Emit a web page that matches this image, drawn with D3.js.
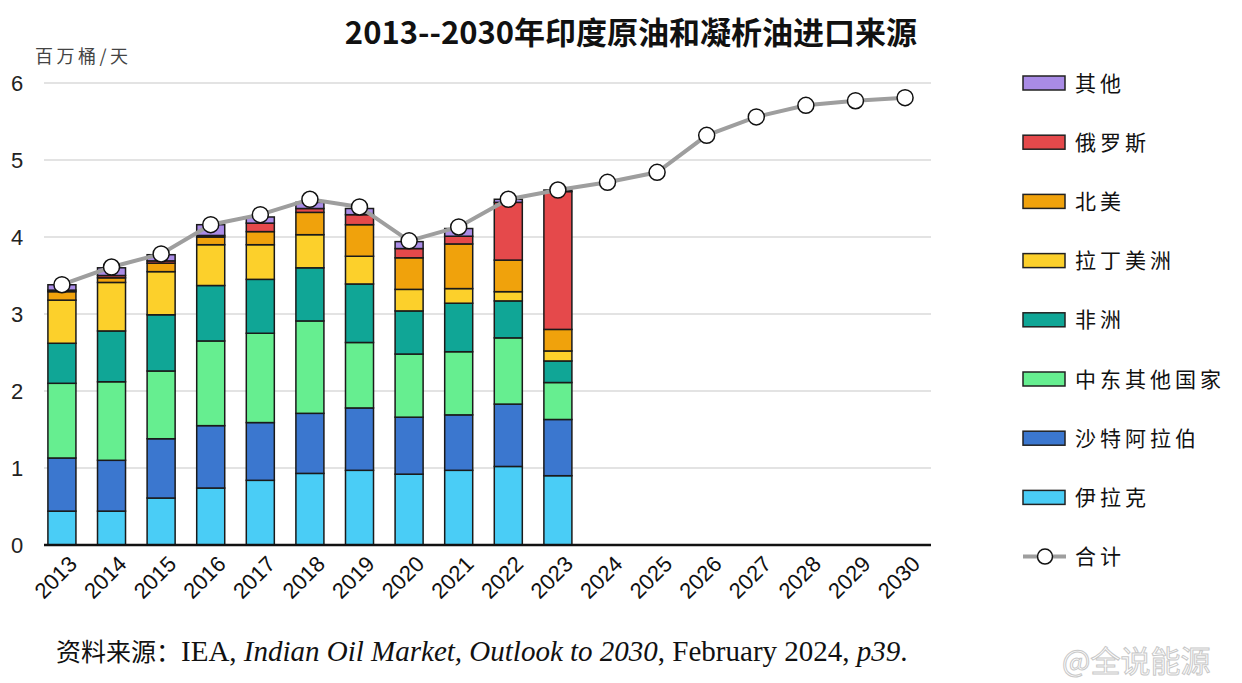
<!DOCTYPE html>
<html>
<head>
<meta charset="utf-8">
<script src="https://cdn.jsdelivr.net/npm/d3@7"></script>
<style>
  body { margin: 0; background: #fff; }
  svg { display: block; }
</style>
</head>
<body>
<div id="chart"></div>
<script>
// years and series (million barrels per day)
const years = d3.range(2013, 2031).map(String);
const barYears = ["2013","2014","2015","2016","2017","2018","2019","2020","2021","2022","2023"];

const iraq     = [0.44, 0.44, 0.61, 0.74, 0.84, 0.93, 0.97, 0.92, 0.97, 1.02, 0.90];
const saudi    = [0.69, 0.66, 0.77, 0.81, 0.75, 0.78, 0.81, 0.74, 0.72, 0.81, 0.73];
const meOther  = [0.97, 1.02, 0.88, 1.10, 1.16, 1.20, 0.85, 0.82, 0.82, 0.86, 0.48];
const africa   = [0.52, 0.66, 0.73, 0.72, 0.70, 0.69, 0.76, 0.56, 0.63, 0.48, 0.28];
const latam    = [0.56, 0.63, 0.56, 0.53, 0.45, 0.43, 0.36, 0.28, 0.19, 0.12, 0.13];
const nAmerica = [0.11, 0.06, 0.11, 0.10, 0.17, 0.29, 0.41, 0.41, 0.58, 0.41, 0.28];
const russia   = [0.02, 0.03, 0.03, 0.02, 0.11, 0.05, 0.13, 0.12, 0.10, 0.75, 1.79];
const other    = [0.07, 0.10, 0.08, 0.14, 0.08, 0.08, 0.08, 0.09, 0.10, 0.04, 0.02];

const totals = [3.38, 3.61, 3.78, 4.16, 4.29, 4.49, 4.39, 3.95, 4.13, 4.49, 4.61,
                4.71, 4.84, 5.32, 5.56, 5.71, 5.77, 5.81];

const seriesNames = ["伊拉克", "沙特阿拉伯", "中东其他国家", "非洲", "拉丁美洲", "北美", "俄罗斯", "其他"];
const seriesColors = ["#4acdf6", "#3b77cf", "#66ee90", "#10a696", "#fcd02b", "#f0a20c", "#e5494b", "#a98be6"];
const seriesValues = [iraq, saudi, meOther, africa, latam, nAmerica, russia, other];
const yTicks = [0, 1, 2, 3, 4, 5, 6];

const W = 1242, H = 683;
const svg = d3.select("#chart").append("svg").attr("width", W).attr("height", H);

const x = d3.scaleBand().domain(years).range([37, 930]).paddingInner(0.435).paddingOuter(0.22);
const y = d3.scaleLinear().domain([0, 6]).range([545, 83]);

// gridlines
svg.append("g")
  .selectAll("line")
  .data(yTicks.filter(d => d > 0))
  .join("line")
  .attr("x1", 44).attr("x2", 931)
  .attr("y1", d => y(d)).attr("y2", d => y(d))
  .attr("stroke", "#e3e3e3").attr("stroke-width", 2);

// y tick labels
svg.append("g")
  .selectAll("text")
  .data(yTicks)
  .join("text")
  .attr("x", 17).attr("y", d => y(d))
  .attr("dy", "0.36em")
  .attr("text-anchor", "middle")
  .attr("font-family", "Liberation Sans, Arial, sans-serif")
  .attr("font-size", 22)
  .attr("fill", "#222")
  .text(d => d);

// stack data
const rows = barYears.map((yr, i) => {
  const r = { year: yr };
  seriesNames.forEach((n, k) => r[n] = seriesValues[k][i]);
  return r;
});
const stacked = d3.stack().keys(seriesNames)(rows);
const color = d3.scaleOrdinal().domain(seriesNames).range(seriesColors);

svg.append("g")
  .selectAll("g")
  .data(stacked)
  .join("g")
  .attr("fill", d => color(d.key))
  .selectAll("rect")
  .data(d => d)
  .join("rect")
  .attr("x", d => x(d.data.year))
  .attr("y", d => y(d[1]))
  .attr("width", x.bandwidth())
  .attr("height", d => y(d[0]) - y(d[1]))
  .attr("stroke", "#1a1a1a")
  .attr("stroke-width", 1.5);

// x axis baseline
svg.append("line")
  .attr("x1", 44).attr("x2", 931)
  .attr("y1", y(0)).attr("y2", y(0))
  .attr("stroke", "#111").attr("stroke-width", 2.5);

// x tick labels
svg.append("g")
  .selectAll("text")
  .data(years)
  .join("text")
  .attr("transform", d => `translate(${x(d) + x.bandwidth() / 2 + 11},${y(0) + 15}) rotate(-45)`)
  .attr("text-anchor", "end")
  .attr("dy", "0.35em")
  .attr("font-family", "Liberation Sans, Arial, sans-serif")
  .attr("font-size", 22)
  .attr("fill", "#111")
  .text(d => d);

// total line
const cx = d => x(d) + x.bandwidth() / 2;
const line = d3.line().x((d, i) => cx(years[i])).y(d => y(d));
svg.append("path")
  .datum(totals)
  .attr("d", line)
  .attr("fill", "none")
  .attr("stroke", "#9e9e9e")
  .attr("stroke-width", 4);

svg.append("g")
  .selectAll("circle")
  .data(totals)
  .join("circle")
  .attr("cx", (d, i) => cx(years[i]))
  .attr("cy", d => y(d))
  .attr("r", 8)
  .attr("fill", "#fff")
  .attr("stroke", "#111")
  .attr("stroke-width", 1.5);

// title
svg.append("text")
  .attr("x", 631).attr("y", 44)
  .attr("text-anchor", "middle")
  .attr("font-family", "Noto Sans CJK SC, sans-serif")
  .attr("font-weight", "bold")
  .attr("font-size", 31)
  .attr("fill", "#111")
  .text("2013--2030年印度原油和凝析油进口来源");

// unit label
svg.append("text")
  .attr("x", 35).attr("y", 63)
  .attr("font-family", "Noto Sans CJK SC, sans-serif")
  .attr("font-size", 18)
  .attr("letter-spacing", 3.5)
  .attr("fill", "#444")
  .text("百万桶/天");

// legend
const legendItems = seriesNames.slice().reverse().concat(["合计"]);
const leg = svg.append("g")
  .selectAll("g")
  .data(legendItems)
  .join("g")
  .attr("transform", (d, i) => `translate(1023,${83 + i * 59.2})`);

leg.filter(d => d !== "合计")
  .append("rect")
  .attr("x", 0).attr("y", -7)
  .attr("width", 42).attr("height", 14)
  .attr("fill", d => color(d))
  .attr("stroke", "#222")
  .attr("stroke-width", 1.5);

const tot = leg.filter(d => d === "合计");
tot.append("line")
  .attr("x1", 0).attr("x2", 43).attr("y1", 0).attr("y2", 0)
  .attr("stroke", "#9e9e9e").attr("stroke-width", 4);
tot.append("circle")
  .attr("cx", 22).attr("cy", 0).attr("r", 7.5)
  .attr("fill", "#fff").attr("stroke", "#111").attr("stroke-width", 1.5);

leg.append("text")
  .attr("x", 52).attr("y", 0)
  .attr("dy", "0.36em")
  .attr("font-family", "Noto Sans CJK SC, sans-serif")
  .attr("font-size", 21)
  .attr("letter-spacing", 4)
  .attr("fill", "#111")
  .text(d => d);

// source note
const src = svg.append("text")
  .attr("x", 56).attr("y", 661)
  .attr("font-family", "Liberation Serif, Times New Roman, serif")
  .attr("font-size", 29)
  .attr("fill", "#111");
src.append("tspan").attr("font-family", "Noto Sans CJK SC, sans-serif").attr("font-size", 25).text("资料来源：");
src.append("tspan").text("IEA, ");
src.append("tspan").attr("font-style", "italic").text("Indian Oil Market, Outlook to 2030");
src.append("tspan").text(", February 2024, ");
src.append("tspan").attr("font-style", "italic").text("p39");
src.append("tspan").text(".");

// watermark
svg.append("text")
  .attr("x", 1062).attr("y", 672)
  .attr("font-family", "Noto Sans CJK SC, sans-serif")
  .attr("font-size", 30)
  .attr("fill", "#fff")
  .attr("stroke", "#c8c8c8")
  .attr("stroke-width", 1)
  .text("@全说能源");
</script>
</body>
</html>
